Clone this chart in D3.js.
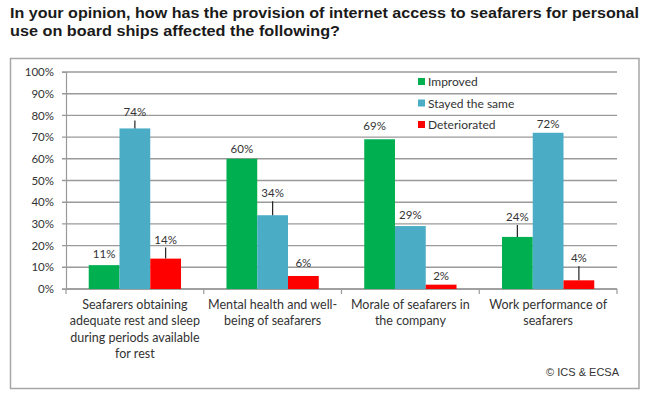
<!DOCTYPE html>
<html lang="en">
<head>
  <meta charset="utf-8">
  <title>Internet access for seafarers</title>
  <script src="https://d3js.org/d3.v7.min.js"></script>
  <style>
    body{margin:0;background:#fff;overflow:hidden;}
    svg{display:block;}
  </style>
</head>
<body>
<svg width="649" height="399"></svg>
<script>

// chart values
var categories = [
  ["Seafarers obtaining", "adequate rest and sleep", "during periods available", "for rest"],
  ["Mental health and well-", "being of seafarers"],
  ["Morale of seafarers in", "the company"],
  ["Work performance of", "seafarers"]
];
var seriesNames = ["Improved", "Stayed the same", "Deteriorated"];
var improved   = [11, 60, 69, 24];
var stayedSame = [74, 34, 29, 72];
var deteriorated = [14, 6, 2, 4];
var yTicks = [0, 10, 20, 30, 40, 50, 60, 70, 80, 90, 100];

var seriesValues = [improved, stayedSame, deteriorated];
var colors = ["#00b050", "#4bacc6", "#ff0000"];

// gap between label baseline and bar top (px), leader lines, horizontal shift
var labelGap   = [[7, 12, 15], [6, 18, 9], [9, 7, 5], [16, 5, 18]];
var leaders    = [[0, 1, 1], [0, 1, 0], [0, 0, 0], [1, 0, 1]];
var labelShift = [[0, 0, 0], [0, 0, 0], [-5, 0, 0], [0, 0, 0]];

var svg = d3.select("svg");

// title
var title = svg.append("g")
    .attr("font-family", "Liberation Sans, Arial, sans-serif")
    .attr("font-weight", "bold")
    .attr("font-size", 15.5)
    .attr("fill", "#1a1a1a");
title.append("text").attr("x", 10).attr("y", 18)
    .attr("textLength", 629).attr("lengthAdjust", "spacingAndGlyphs")
    .text("In your opinion, how has the provision of internet access to seafarers for personal");
title.append("text").attr("x", 10).attr("y", 36)
    .attr("textLength", 330).attr("lengthAdjust", "spacingAndGlyphs")
    .text("use on board ships affected the following?");

// frame
svg.append("rect")
    .attr("x", 10.5).attr("y", 58.5)
    .attr("width", 628.5).attr("height", 330)
    .attr("fill", "none").attr("stroke", "#a6a6a6").attr("stroke-width", 1.5);

var margin = {left: 66, right: 617, top: 72, bottom: 289};

var x = d3.scaleBand()
    .domain(d3.range(categories.length))
    .range([margin.left, margin.right])
    .paddingInner(0.33)
    .paddingOuter(0.165);

var xs = d3.scaleBand()
    .domain(d3.range(seriesNames.length))
    .range([0, x.bandwidth()]);

var y = d3.scaleLinear()
    .domain([0, 100])
    .range([margin.bottom, margin.top]);

var font = "Lato, 'Open Sans', sans-serif";

// gridlines
svg.append("g")
  .selectAll("line")
  .data(yTicks)
  .join("line")
    .attr("x1", margin.left - 4).attr("x2", margin.right)
    .attr("y1", function(d){ return y(d); })
    .attr("y2", function(d){ return y(d); })
    .attr("stroke", "#9a9a9a")
    .attr("stroke-width", 1.4);

// y axis
var yAxis = svg.append("g")
    .attr("transform", "translate(" + margin.left + ",0)")
    .call(d3.axisLeft(y).tickValues(yTicks).tickSize(4).tickPadding(8)
      .tickFormat(function(d){ return d + "%"; }));
yAxis.select(".domain").attr("stroke", "#9a9a9a").attr("stroke-width", 1.2);
yAxis.selectAll(".tick line").remove();
yAxis.selectAll("text").attr("font-family", font).attr("font-size", 11.5).attr("fill", "#333");

// x axis line and separator ticks
var step = x.step();
svg.append("line")
    .attr("x1", margin.left).attr("x2", margin.right)
    .attr("y1", y(0)).attr("y2", y(0))
    .attr("stroke", "#9a9a9a").attr("stroke-width", 1.4);
svg.append("g")
  .selectAll("line")
  .data(d3.range(categories.length + 1))
  .join("line")
    .attr("x1", function(i){ return margin.left + i * step; })
    .attr("x2", function(i){ return margin.left + i * step; })
    .attr("y1", y(0)).attr("y2", y(0) + 5)
    .attr("stroke", "#9a9a9a").attr("stroke-width", 1.2);

// category labels
var catLabels = svg.append("g")
    .attr("font-family", font).attr("font-size", 12.5)
    .attr("fill", "#333").attr("text-anchor", "middle");
categories.forEach(function(lines, i){
  var t = catLabels.append("text")
      .attr("x", x(i) + x.bandwidth() / 2)
      .attr("y", 309);
  lines.forEach(function(l, j){
    t.append("tspan")
      .attr("x", x(i) + x.bandwidth() / 2)
      .attr("dy", j === 0 ? 0 : 16.3)
      .text(l);
  });
});

// bars
var bars = svg.append("g");
seriesValues.forEach(function(vals, s){
  bars.selectAll(".bar-" + s)
    .data(vals)
    .join("rect")
      .attr("x", function(d, i){ return x(i) + xs(s); })
      .attr("y", function(d){ return y(d); })
      .attr("width", xs.bandwidth())
      .attr("height", function(d){ return y(0) - y(d); })
      .attr("fill", colors[s]);
});

// value labels and leader lines
var labels = svg.append("g")
    .attr("font-family", font).attr("font-size", 11.5)
    .attr("fill", "#333").attr("text-anchor", "middle");
seriesValues.forEach(function(vals, s){
  vals.forEach(function(d, i){
    var cx = x(i) + xs(s) + xs.bandwidth() / 2;
    var top = y(d);
    var gap = labelGap[i][s];
    labels.append("text")
      .attr("x", cx + labelShift[i][s])
      .attr("y", top - gap)
      .text(d + "%");
    if (leaders[i][s]) {
      labels.append("line")
        .attr("x1", cx).attr("x2", cx)
        .attr("y1", top - gap + 4).attr("y2", top)
        .attr("stroke", "#222").attr("stroke-width", 1.2);
    }
  });
});

// legend
var legend = svg.append("g")
    .attr("font-family", font).attr("font-size", 12).attr("fill", "#333");
seriesNames.forEach(function(n, s){
  var ly = 82 + s * 21.5;
  legend.append("rect")
    .attr("x", 418).attr("y", ly - 4)
    .attr("width", 7).attr("height", 7)
    .attr("fill", colors[s]);
  legend.append("text")
    .attr("x", 428).attr("y", ly + 4)
    .text(n);
});

// source
svg.append("text")
    .attr("x", 619).attr("y", 376)
    .attr("text-anchor", "end")
    .attr("font-family", "Liberation Sans, Arial, sans-serif")
    .attr("font-size", 11).attr("fill", "#333")
    .text("\u00a9 ICS & ECSA");

</script>
</body>
</html>
